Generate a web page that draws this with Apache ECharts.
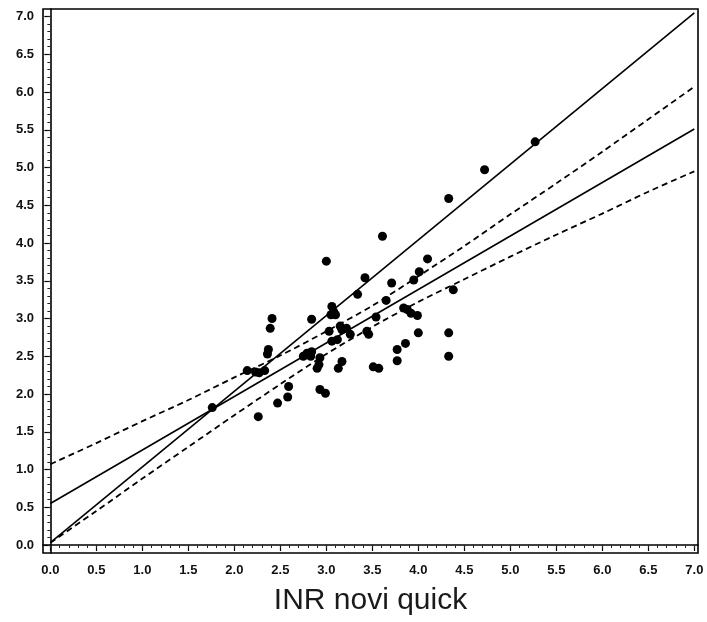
<!DOCTYPE html>
<html><head><meta charset="utf-8">
<script src="https://cdn.jsdelivr.net/npm/echarts@6/dist/echarts.min.js"></script>
<style>html,body{margin:0;padding:0;background:#fff}#c{width:707px;height:622px}</style>
</head><body><div id="c"></div>
<script>
const tickValues = [0,0.5,1,1.5,2,2.5,3,3.5,4,4.5,5,5.5,6,6.5,7];
const minorTickValues = [0,0.1,0.2,0.3,0.4,0.5,0.6,0.7,0.8,0.9,1,1.1,1.2,1.3,1.4,1.5,1.6,1.7,1.8,1.9,2,2.1,2.2,2.3,2.4,2.5,2.6,2.7,2.8,2.9,3,3.1,3.2,3.3,3.4,3.5,3.6,3.7,3.8,3.9,4,4.1,4.2,4.3,4.4,4.5,4.6,4.7,4.8,4.9,5,5.1,5.2,5.3,5.4,5.5,5.6,5.7,5.8,5.9,6,6.1,6.2,6.3,6.4,6.5,6.6,6.7,6.8,6.9,7];
const xTitle = 'INR novi quick';

const pointsX = [1.76,2.14,2.23,2.27,2.33,2.26,2.47,2.58,2.59,2.36,2.37,2.39,2.41,2.75,2.79,2.84,2.83,2.84,2.93,2.92,2.90,2.93,2.99,3.00,3.03,3.06,3.08,3.05,3.10,3.06,3.12,3.13,3.17,3.17,3.22,3.26,3.34,3.42,3.44,3.46,3.51,3.57,3.54,3.61,3.65,3.71,3.77,3.77,3.86,3.84,3.88,3.92,3.99,3.95,4.01,4.00,4.10,4.33,4.33,4.33,4.38,4.72,5.27,3.15];
const pointsY = [1.82,2.31,2.29,2.28,2.31,1.70,1.88,1.96,2.10,2.53,2.59,2.87,3.00,2.50,2.54,2.56,2.50,2.99,2.48,2.39,2.34,2.06,2.01,3.76,2.83,3.16,3.09,3.05,3.05,2.70,2.72,2.34,2.43,2.85,2.87,2.79,3.32,3.54,2.83,2.79,2.36,2.34,3.02,4.09,3.24,3.47,2.59,2.44,2.67,3.14,3.12,3.07,3.04,3.51,3.62,2.81,3.79,4.59,2.81,2.50,3.38,4.97,5.34,2.90];

const identityX = [0, 7];
const identityY = [0.03, 7.05];
const regressionX = [0, 7];
const regressionY = [0.55, 5.51];
const bandX = [0,0.5,1,1.5,2,2.5,3,3.5,4,4.5,5,5.5,6,6.5,7];
const upperY = [1.07,1.35,1.64,1.92,2.22,2.51,2.83,3.17,3.56,3.96,4.38,4.79,5.21,5.64,6.07];
const lowerY = [0.03,0.45,0.88,1.30,1.72,2.13,2.53,2.89,3.22,3.52,3.82,4.11,4.39,4.68,4.95];

const zip = (a,b) => a.map((v,i)=>[v,b[i]]);
const INK = '#000';
const labelStyle = {fontFamily:'Liberation Sans, Arial, sans-serif', fontWeight:'bold', fontSize:13, color:'#111',
  formatter: v => Number(v).toFixed(1)};

function axisPair(kind, range){
  const base = {type:'value', min:range[0], max:range[1], splitLine:{show:false},
    position: kind==='x'?'bottom':'left'};
  const major = Object.assign({}, base, {
    axisLine:{show:true, lineStyle:{color:INK, width:1.6}},
    axisTick:{show:true, customValues:tickValues, length:6, lineStyle:{color:INK,width:1.2}},
    axisLabel:Object.assign({show:true, customValues:tickValues, margin:kind==='x'?11:9}, labelStyle)
  });
  const minor = Object.assign({}, base, {
    axisLine:{show:false},
    axisTick:{show:true, customValues:minorTickValues, length:3, lineStyle:{color:'#222',width:1}},
    axisLabel:{show:false}
  });
  if(kind==='x'){
    major.name = xTitle; major.nameLocation='middle'; major.nameGap=33;
    major.nameTextStyle = {fontFamily:'Liberation Sans, Arial, sans-serif', fontSize:30, color:'#1a1a1a'};
  }
  return [major, minor];
}

const chart = echarts.init(document.getElementById('c'), null, {renderer:'canvas'});
chart.setOption({
  animation:false,
  backgroundColor:'#fff',
  grid:{left:43, right:9, top:9, bottom:69, show:true, borderColor:INK, borderWidth:1.6, backgroundColor:'transparent'},
  xAxis: axisPair('x', [-0.08, 7.04]),
  yAxis: axisPair('y', [-0.106, 7.1]),
  series:[
    {type:'line', data:zip(identityX, identityY), symbol:'none', lineStyle:{color:INK, width:1.6}, z:2},
    {type:'line', data:zip(regressionX, regressionY), symbol:'none', lineStyle:{color:INK, width:1.6}, z:2},
    {type:'line', data:zip(bandX, upperY), symbol:'none', smooth:0.3, lineStyle:{color:INK, width:1.8, type:[6,4]}, z:2},
    {type:'line', data:zip(bandX, lowerY), symbol:'none', smooth:0.3, lineStyle:{color:INK, width:1.8, type:[6,4]}, z:2},
    {type:'scatter', data:zip(pointsX, pointsY), symbol:'circle', symbolSize:9, itemStyle:{color:INK, opacity:1}, z:3}
  ]
});
</script>
</body></html>
